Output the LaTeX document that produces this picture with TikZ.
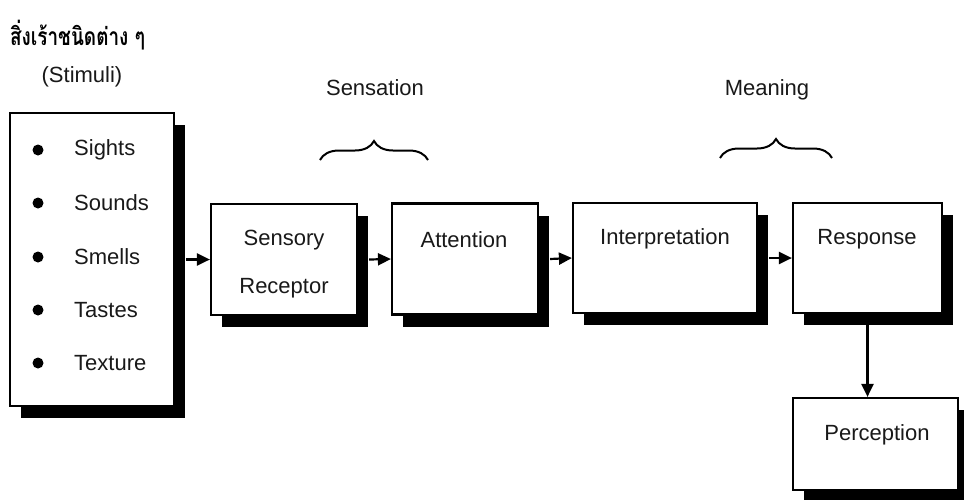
\documentclass[tikz,border=0pt]{standalone}
\usepackage{fontspec}
\setmainfont{Liberation Sans}
\newfontfamily\thaifont[Script=Thai]{Loma}
\usetikzlibrary{arrows.meta,shadows,decorations.pathreplacing}
\tikzset{
  box/.style={draw, line width=2.2pt, fill=white, inner sep=0pt,
    drop shadow={shadow xshift=11pt, shadow yshift=-12pt, fill=black, opacity=1}},
  txt/.style={font=\fontsize{22}{28}\selectfont, inner sep=0pt, text=black!90},
  arr/.style={line width=2.2pt, -{Triangle[length=13pt,width=12pt]}},
  brc/.style={line width=2pt, decorate, decoration={brace, amplitude=19pt}},
  dot/.style={circle, fill=black, minimum size=11pt, inner sep=0pt}
}
\begin{document}
\begin{tikzpicture}[x=1pt,y=-1pt]
\useasboundingbox[fill=white] (0,0) rectangle (964,499);
% title
\node[anchor=west, inner sep=0pt, xscale=0.86, yscale=1.12, font=\thaifont\bfseries\fontsize{22}{26}\selectfont] (title) at (10,35) {สิ่งเร้าชนิดต่าง ๆ};
\node[txt] (stimlab) at (82,77) {(Stimuli)};
% boxes
\node[box, minimum width=164pt, minimum height=293pt] (stim) at (92,259.5) {};
\node[box, minimum width=146pt, minimum height=111pt] (sens) at (284,259.5) {};
\node[box, minimum width=146pt, minimum height=111pt] (att) at (465,259) {};
\node[box, minimum width=184pt, minimum height=110pt] (interp) at (665,258) {};
\node[box, minimum width=149pt, minimum height=110pt] (resp) at (867.5,258) {};
\node[box, minimum width=165pt, minimum height=92pt] (perc) at (875.5,444) {};
% stimuli list
\foreach \y/\t [count=\i] in {150/Sights,203/Sounds,257/Smells,310/Tastes,363/Texture}{
  \node[dot] (b\i) at (38,\y) {};
  \node[txt, anchor=west] (s\i) at (74,\y) {\t};
}
% box texts
\node[txt] (senst1) at (284,240) {Sensory};
\node[txt] (senst2) at (284,288) {Receptor};
\node[txt] (attt) at (464,240) {Attention};
\node[txt] (interpt) at (665,239) {Interpretation};
\node[txt] (respt) at (867,239) {Response};
\node[txt] (perct) at (877,435) {Perception};
% arrows
\draw[arr] ([xshift=11pt]stim.east) -- (sens.west);
\draw[arr] ([xshift=11pt]sens.east) -- (att.west);
\draw[arr] ([xshift=11pt]att.east) -- (interp.west);
\draw[arr] ([xshift=11pt]interp.east) -- (resp.west);
\draw[arr] ([yshift=-5pt]resp.south) -- (resp.south |- perc.north);
% braces and labels
\node[txt] (sensation) at (375,88) {Sensation};
\node[txt] (meaning) at (767,90) {Meaning};
\coordinate (b1l) at (320,160);
\coordinate (b1r) at (428,160);
\coordinate (b2l) at (720,158);
\coordinate (b2r) at (832,158);
\draw[brc] (b1l) -- (b1r);
\draw[brc] (b2l) -- (b2r);
\end{tikzpicture}
\end{document}
